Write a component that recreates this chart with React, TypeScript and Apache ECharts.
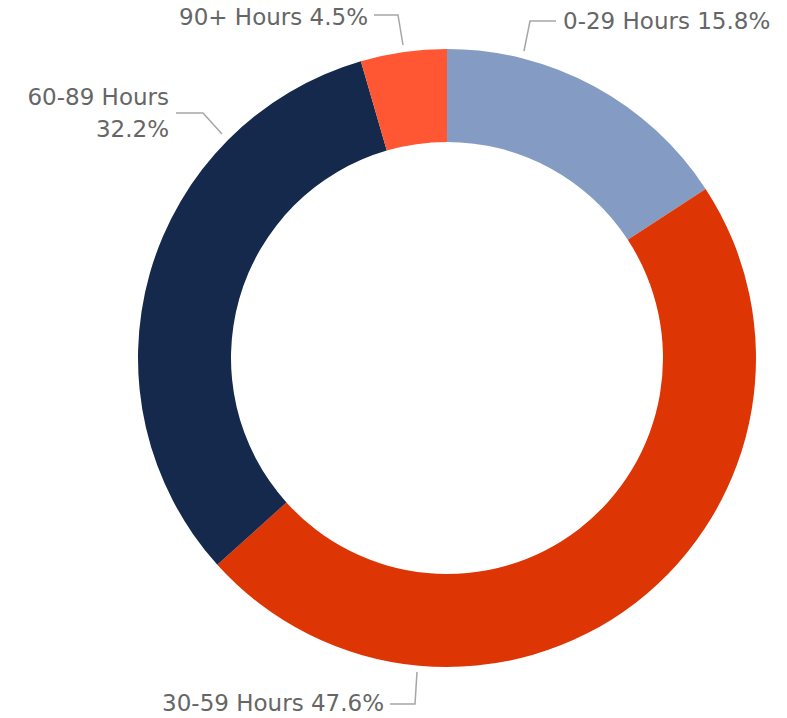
import React, { useEffect, useRef } from "react";
import * as echarts from "echarts";

const categories = ["0-29 Hours", "30-59 Hours", "60-89 Hours", "90+ Hours"];
const shares = [15.8, 47.6, 32.2, 4.5];
const colors = ["#849CC4", "#DD3503", "#14294B", "#FF5733"];

// label placement (style only)
const labelPos = [
  { x: 563, y: 21, align: "left", line: [[524, 51], [530, 21], [556, 21]] },
  { x: 384, y: 703, align: "right", line: [[417, 672], [415, 704], [390, 704]] },
  { x: 169, y: 113, align: "right", line: [[222, 134], [203, 113], [176, 113]] },
  { x: 368, y: 17, align: "right", line: [[403, 45], [398, 15], [374, 15]] },
];

export default function App() {
  const ref = useRef<HTMLDivElement>(null);
  useEffect(() => {
    if (!ref.current) return;
    const chart = echarts.init(ref.current, undefined, { renderer: "svg" });
    chart.setOption({
      animation: false,
      backgroundColor: "#ffffff",
      series: [
        {
          type: "pie",
          center: [447, 358],
          radius: [216, 309],
          startAngle: 90,
          clockwise: true,
          avoidLabelOverlap: false,
          data: categories.map((c, i) => ({
            name: c,
            value: shares[i],
            itemStyle: { color: colors[i] },
            label: i === 2 ? { lineHeight: 32 } : { lineHeight: 22 },
          })),
          label: {
            show: true,
            position: "outside",
            fontFamily: "DejaVu Sans",
            fontSize: 23,
            color: "#666666",
            formatter: (p: any) =>
              p.dataIndex === 2
                ? `${p.name}\n${p.value.toFixed(1)}%`
                : `${p.name} ${p.value.toFixed(1)}%`,
          },
          labelLine: {
            show: true,
            lineStyle: { color: "#A6A6A6", width: 1.5 },
          },
          labelLayout: (params: any) => {
            const lp = labelPos[params.dataIndex];
            return {
              x: lp.x,
              y: lp.y,
              align: lp.align,
              verticalAlign: "middle",
              labelLinePoints: lp.line,
            };
          },
          emphasis: { disabled: true },
        },
      ],
    });
    return () => chart.dispose();
  }, []);
  return (
    <div
      ref={ref}
      style={{ position: "fixed", left: 0, top: 0, width: 787, height: 718 }}
    />
  );
}
